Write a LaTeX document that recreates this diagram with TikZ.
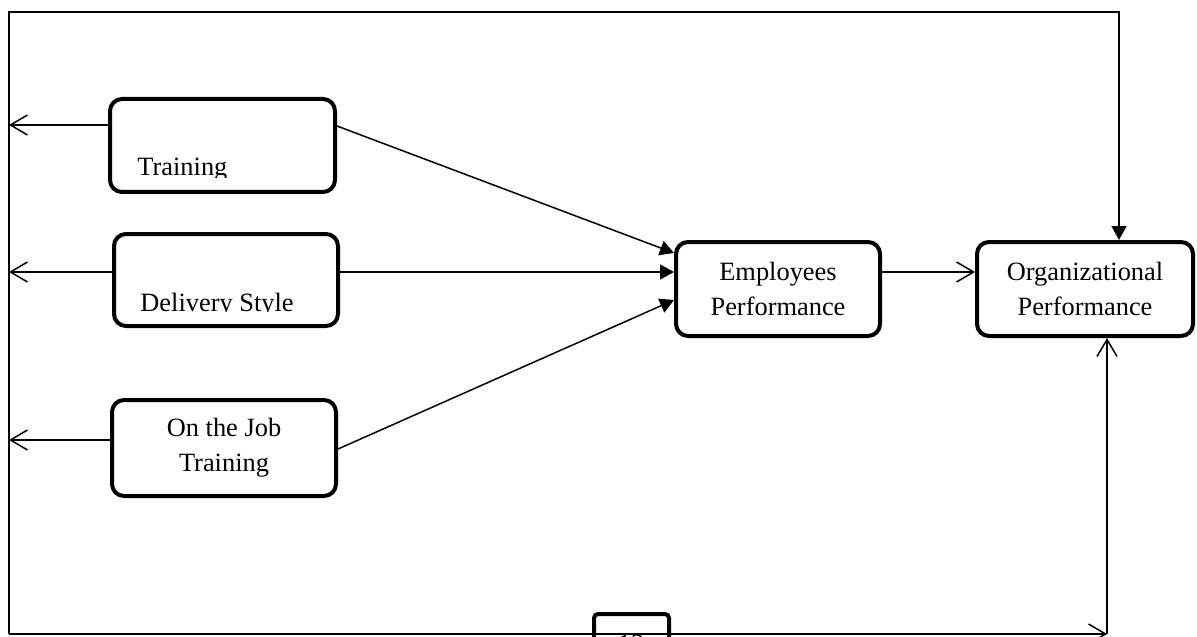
\documentclass[tikz,border=0pt]{standalone}
\usepackage{fontspec}
\setmainfont{Liberation Serif}
\usetikzlibrary{arrows.meta}
\begin{document}
\begin{tikzpicture}[x=0.5pt,y=-0.5pt,
  box/.style={draw,line width=2pt,rounded corners=6pt,inner sep=0pt},
  thinline/.style={line width=0.75pt},
  openarrow/.style={thinline,-{Straight Barb[length=8.5pt,width=10pt]}},
  solidarrow/.style={thinline,-{Triangle[length=7pt,width=7.5pt]}},
  lbl/.style={font=\fontsize{13.2}{17.5}\selectfont,align=center,inner sep=0pt}]
\useasboundingbox (0,0) rectangle (1197,636);
\clip (0,0) rectangle (1197,636);
% boxes
\node[box,minimum width=112.5pt,minimum height=46.5pt] (tr) at (222.5,145.5) {};
\node[box,minimum width=112pt,minimum height=46pt] (dl) at (226,280) {};
\node[box,minimum width=112pt,minimum height=48pt,lbl] (oj) at (224,448) {On the Job\\Training};
\node[box,minimum width=102pt,minimum height=47pt,lbl] (emp) at (778,289) {Employees\\Performance};
\node[box,minimum width=108pt,minimum height=47pt,lbl] (org) at (1085,289) {Organizational\\Performance};
\node[draw,line width=2pt,rounded corners=2pt,minimum width=37.5pt,minimum height=23pt] (pg) at (631.5,637) {};
\node[lbl] (pgt) at (631,644) {12};
% clipped labels
\begin{scope}
  \clip (110,99) rectangle (335,178);
  \node[lbl,anchor=base west] (trt) at (137,176) {Training};
\end{scope}
\begin{scope}
  \clip (114,234) rectangle (338,311.5);
  \node[lbl,anchor=base west] (dlt) at (140,311) {Delivery Style};
\end{scope}
% frame coordinates
\coordinate (ftl) at (9,12);
\coordinate (ftr) at (1119,12);
\coordinate (fbl) at (9,634);
\coordinate (fbr) at (1107,634);
\coordinate (l1) at (9,125);
\coordinate (l2) at (9,272);
\coordinate (l3) at (9,440);
% frame
\draw[solidarrow] (fbl) -- (ftl) -- (ftr) -- (ftr |- org.north);
\draw[openarrow] (fbl) -- (fbr);
\draw[openarrow] (fbr) -- (fbr |- org.south);
% left arrows
\draw[openarrow] (tr.west |- l1) -- (l1);
\draw[openarrow] (dl.west |- l2) -- (l2);
\draw[openarrow] (oj.west |- l3) -- (l3);
% to employees
\draw[solidarrow] (tr.east |- 0,126) -- (emp.west |- 0,253);
\draw[solidarrow] (dl.east |- 0,272) -- (emp.west |- 0,272);
\draw[solidarrow] (oj.east |- 0,449) -- (emp.west |- 0,300);
% to organizational
\draw[openarrow] (emp.east |- 0,272) -- (org.west |- 0,272);
\end{tikzpicture}
\end{document}
